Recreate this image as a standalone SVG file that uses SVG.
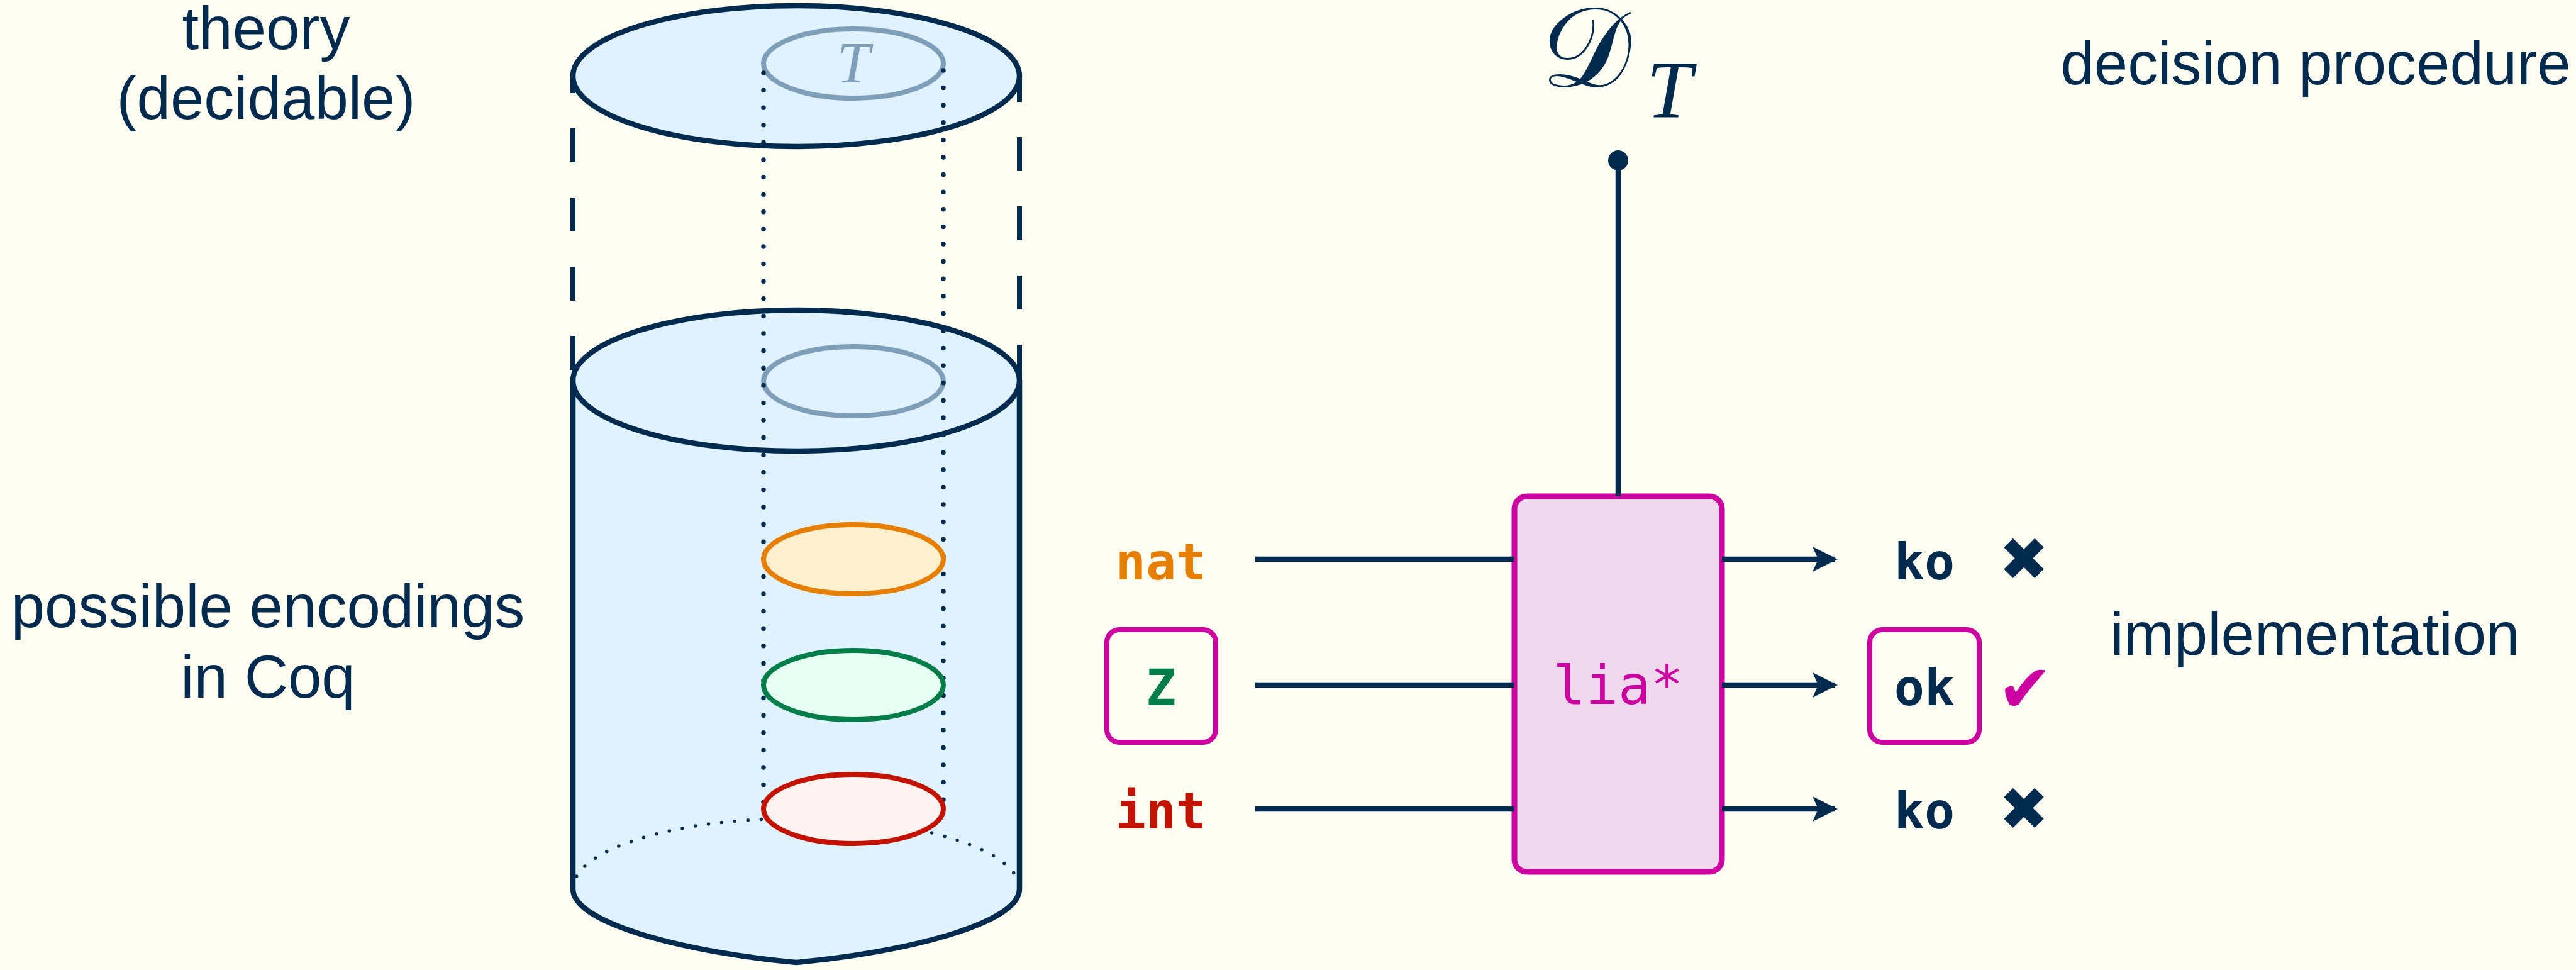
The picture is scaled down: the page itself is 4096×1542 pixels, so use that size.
<svg xmlns="http://www.w3.org/2000/svg" width="4096" height="1542" viewBox="0 0 4096 1542">
<defs>
<style>
.lbl{font-family:"Liberation Sans",Arial,sans-serif;font-size:96px;fill:#002b4e;text-anchor:middle}
.mono{font-family:"DejaVu Sans Mono","Liberation Mono",monospace;font-size:80px;text-anchor:middle;font-weight:bold}
.conn{stroke:#002b4e;stroke-width:8.5;fill:none}
.mbox{fill:#fffdf2;stroke:#cc00a0;stroke-width:8}
.inner{stroke-width:8}
.dots{stroke:#002b4e;stroke-width:7.5;stroke-linecap:round;stroke-dasharray:0 27.6;fill:none}
.mark{font-family:"DejaVu Sans",sans-serif;text-anchor:middle}
</style>
<marker id="arr" markerUnits="userSpaceOnUse" viewBox="-42 -24 48 48" markerWidth="48" markerHeight="48" refX="0" refY="0" orient="auto">
<path d="M4,0 L-36,-20 L-27,0 L-36,20 Z" fill="#002b4e"/>
</marker>
</defs>
<rect width="4096" height="1542" fill="#fffdf2"/>

<g id="labels-left">
<text class="lbl" x="423" y="78">theory</text>
<text class="lbl" x="423" y="189">(decidable)</text>
<text class="lbl" x="426" y="997">possible encodings</text>
<text class="lbl" x="426" y="1109">in Coq</text>
</g>

<g id="cylinder">
<line x1="911" y1="121" x2="911" y2="605" stroke="#002b4e" stroke-width="8" stroke-dasharray="54 56" stroke-dashoffset="27"/>
<line x1="1621" y1="121" x2="1621" y2="605" stroke="#002b4e" stroke-width="8" stroke-dasharray="54 56" stroke-dashoffset="13"/>
<ellipse cx="1266" cy="121" rx="355" ry="112" fill="#e0f2fe" stroke="#002b4e" stroke-width="8.5"/>
<path d="M911,605 L911,1413 C911,1470 1100,1515 1266,1530 C1432,1515 1621,1470 1621,1413 L1621,605 Z" fill="#e0f2fe"/>
<path d="M911,605 L911,1413 C911,1470 1100,1515 1266,1530 C1432,1515 1621,1470 1621,1413 L1621,605" fill="none" stroke="#002b4e" stroke-width="8.5"/>
<path d="M911,1413 A355,112 0 0 1 1621,1413" fill="none" stroke="#002b4e" stroke-width="5.5" stroke-linecap="round" stroke-dasharray="0 21"/>
<ellipse cx="1266" cy="605" rx="355" ry="112" fill="#e0f2fe" stroke="#002b4e" stroke-width="8.5"/>
</g>

<g id="theory-T">
<ellipse class="inner" cx="1357" cy="101" rx="143" ry="55" fill="none" stroke="#7f9fb8"/>
<text x="1357" y="131" font-family="Liberation Serif,serif" font-style="italic" font-size="94" fill="#7f9fb8" text-anchor="middle">T</text>
</g>
<g id="theory-T-shadow">
<ellipse class="inner" cx="1357" cy="606" rx="143" ry="55" fill="none" stroke="#7f9fb8"/>
</g>

<g id="projection">
<line class="dots" x1="1214" y1="116" x2="1214" y2="1286"/>
<line class="dots" x1="1500" y1="112" x2="1500" y2="1286"/>
</g>

<g id="enc-nat"><ellipse class="inner" cx="1357" cy="889" rx="143" ry="55" fill="#ffefcc" stroke="#e67e00"/></g>
<g id="enc-Z"><ellipse class="inner" cx="1357" cy="1089" rx="143" ry="55" fill="#e6fff3" stroke="#007d48"/></g>
<g id="enc-int"><ellipse class="inner" cx="1357" cy="1286" rx="143" ry="55" fill="#fff4f2" stroke="#c41200"/></g>

<g id="decision-procedure">
<text x="2450" y="138" font-family="DejaVu Serif,Liberation Serif,serif" font-size="180" fill="#002b4e">𝒟</text>
<text x="2618" y="186" font-family="Liberation Serif,serif" font-style="italic" font-size="130" fill="#002b4e">T</text>
<circle cx="2573" cy="255" r="16" fill="#002b4e"/>
<text class="lbl" x="3682" y="134">decision procedure</text>
</g>

<g id="lia">
<rect x="2408" y="789" width="330" height="597" rx="20" fill="#f0d8ec" stroke="#cc00a0" stroke-width="9"/>
<text x="2573" y="1119" font-family="DejaVu Sans Mono,Liberation Mono,monospace" font-size="86" fill="#cc00a0" text-anchor="middle">lia*</text>
</g>

<g id="in-nat"><text class="mono" x="1846" y="921" fill="#e67e00">nat</text></g>
<g id="in-Z">
<rect class="mbox" x="1760" y="1001" width="173" height="179" rx="20"/>
<text class="mono" x="1846" y="1121" fill="#007d48">Z</text>
</g>
<g id="in-int"><text class="mono" x="1846" y="1317" fill="#c41200">int</text></g>

<g id="out-1">
<text class="mono" x="3060" y="921" fill="#002b4e">ko</text>
<text class="mark" x="3218" y="922" font-size="95" fill="#002b4e">✖</text>
</g>
<g id="out-2">
<rect class="mbox" x="2973" y="1001" width="174" height="179" rx="20"/>
<text class="mono" x="3060" y="1121" fill="#002b4e">ok</text>
<text class="mark" x="3220" y="1131" font-size="105" fill="#cc00a0">✔</text>
</g>
<g id="out-3">
<text class="mono" x="3060" y="1317" fill="#002b4e">ko</text>
<text class="mark" x="3218" y="1319" font-size="95" fill="#002b4e">✖</text>
</g>
<text class="lbl" x="3681" y="1041">implementation</text>

<g id="connectors">
<line class="conn" x1="2573" y1="255" x2="2573" y2="789"/>
<line class="conn" x1="1996" y1="889" x2="2408" y2="889"/>
<line class="conn" x1="1996" y1="1089" x2="2408" y2="1089"/>
<line class="conn" x1="1996" y1="1286" x2="2408" y2="1286"/>
<line class="conn" x1="2738" y1="889" x2="2918" y2="889" marker-end="url(#arr)"/>
<line class="conn" x1="2738" y1="1089" x2="2918" y2="1089" marker-end="url(#arr)"/>
<line class="conn" x1="2738" y1="1286" x2="2918" y2="1286" marker-end="url(#arr)"/>
</g>
</svg>
